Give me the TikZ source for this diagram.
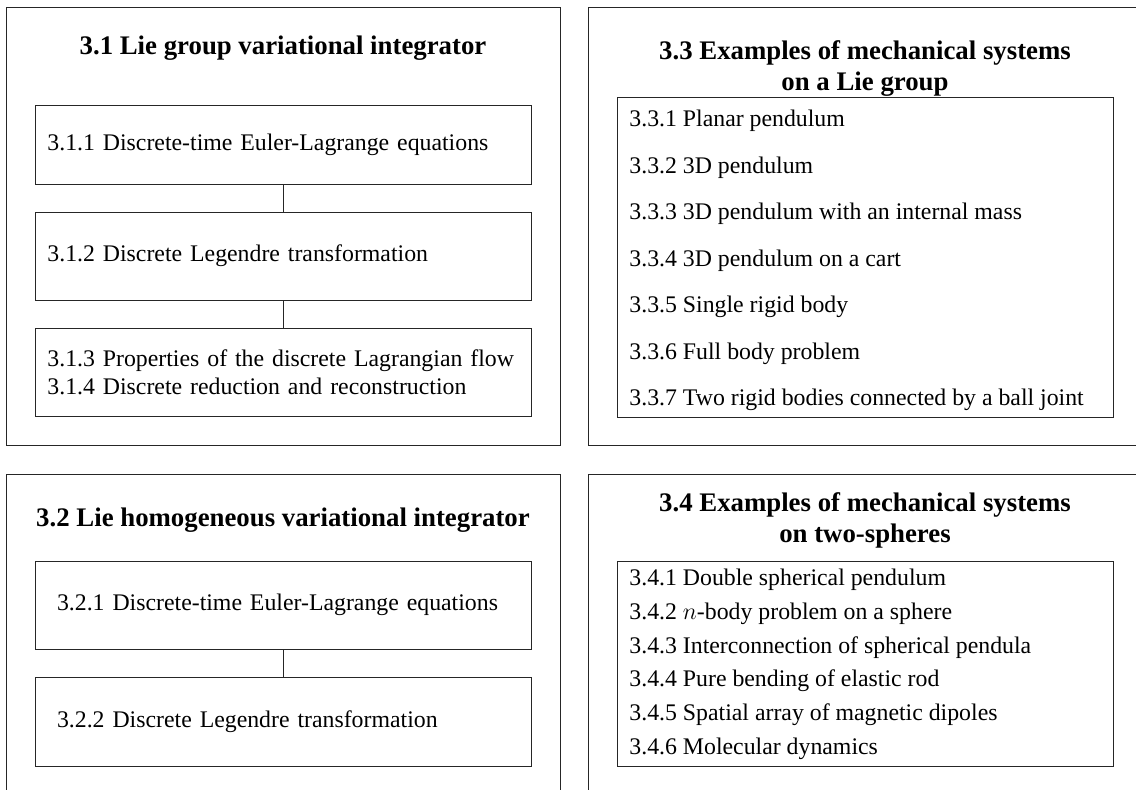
\documentclass[tikz,border=0pt]{standalone}
\usepackage{fontspec}
\setmainfont{Liberation Serif}
\usetikzlibrary{positioning}

\begin{document}
\begin{tikzpicture}[x=0.5pt,y=-0.5pt,
  frame/.style={draw=black!85,line width=0.5pt,minimum width=277pt,inner sep=0pt},
  sub/.style={draw=black!85,line width=0.5pt,minimum width=248pt,text width=235.6pt,inner xsep=6.2pt,align=left,font=\fontsize{11.9}{14}\selectfont},
  wide/.style={sub,text width=226pt,inner xsep=11pt},
  head/.style={font=\fontsize{13.4}{15.5}\selectfont\bfseries,align=center},
  item/.style={anchor=west,inner sep=0pt,font=\fontsize{11.9}{14}\selectfont}]
\clip (0,0) rectangle (1136,789);

% outer frames
\node[frame,minimum height=218.75pt] (o31) at (283,226.25) {};
\node[frame,minimum height=218.75pt] (o33) at (865,226.25) {};
\node[frame,minimum height=213pt] (o32) at (283,687) {};
\node[frame,minimum height=213pt] (o34) at (865,687) {};

% 3.1
\node[head] (t31) at (283,48) {3.1 Lie group variational integrator};
\node[sub,minimum height=39.5pt] (b311) at (283,144.5) {3.1.1 Discrete-time Euler-Lagrange equations};
\node[sub,minimum height=44pt] (b312) at (283,256) {3.1.2 Discrete Legendre transformation};
\node[sub,minimum height=44pt] (b313) at (283,372) {3.1.3 Properties of the discrete Lagrangian flow\\3.1.4 Discrete reduction and reconstruction};
\draw[black!85,line width=0.5pt] (b311) -- (b312);
\draw[black!85,line width=0.5pt] (b312) -- (b313);

% 3.2
\node[head] (t32) at (283,520) {3.2 Lie homogeneous variational integrator};
\node[wide,minimum height=44pt] (b321) at (283,605) {3.2.1 Discrete-time Euler-Lagrange equations};
\node[wide,minimum height=44.5pt] (b322) at (283,721.5) {3.2.2 Discrete Legendre transformation};
\draw[black!85,line width=0.5pt] (b321) -- (b322);

% 3.3
\node[head] (t33) at (865,68.5) {3.3 Examples of mechanical systems\\on a Lie group};
\node[sub,minimum height=160pt] (b33) at (865,257) {};
\node[item] (i331) at (629,121) {3.3.1 Planar pendulum};
\node[item] (i332) at (629,167.5) {3.3.2 3D pendulum};
\node[item] (i333) at (629,214) {3.3.3 3D pendulum with an internal mass};
\node[item] (i334) at (629,260.5) {3.3.4 3D pendulum on a cart};
\node[item] (i335) at (629,307) {3.3.5 Single rigid body};
\node[item] (i336) at (629,353.5) {3.3.6 Full body problem};
\node[item] (i337) at (629,400) {3.3.7 Two rigid bodies connected by a ball joint};

% 3.4
\node[head] (t34) at (865,520.5) {3.4 Examples of mechanical systems\\on two-spheres};
\node[sub,minimum height=102.5pt] (b34) at (865,663.5) {};
\node[item] (i341) at (629,580) {3.4.1 Double spherical pendulum};
\node[item] (i342) at (629,614) {3.4.2 $n$-body problem on a sphere};
\node[item] (i343) at (629,647.5) {3.4.3 Interconnection of spherical pendula};
\node[item] (i344) at (629,681) {3.4.4 Pure bending of elastic rod};
\node[item] (i345) at (629,715) {3.4.5 Spatial array of magnetic dipoles};
\node[item] (i346) at (629,749) {3.4.6 Molecular dynamics};

\end{tikzpicture}
\end{document}
